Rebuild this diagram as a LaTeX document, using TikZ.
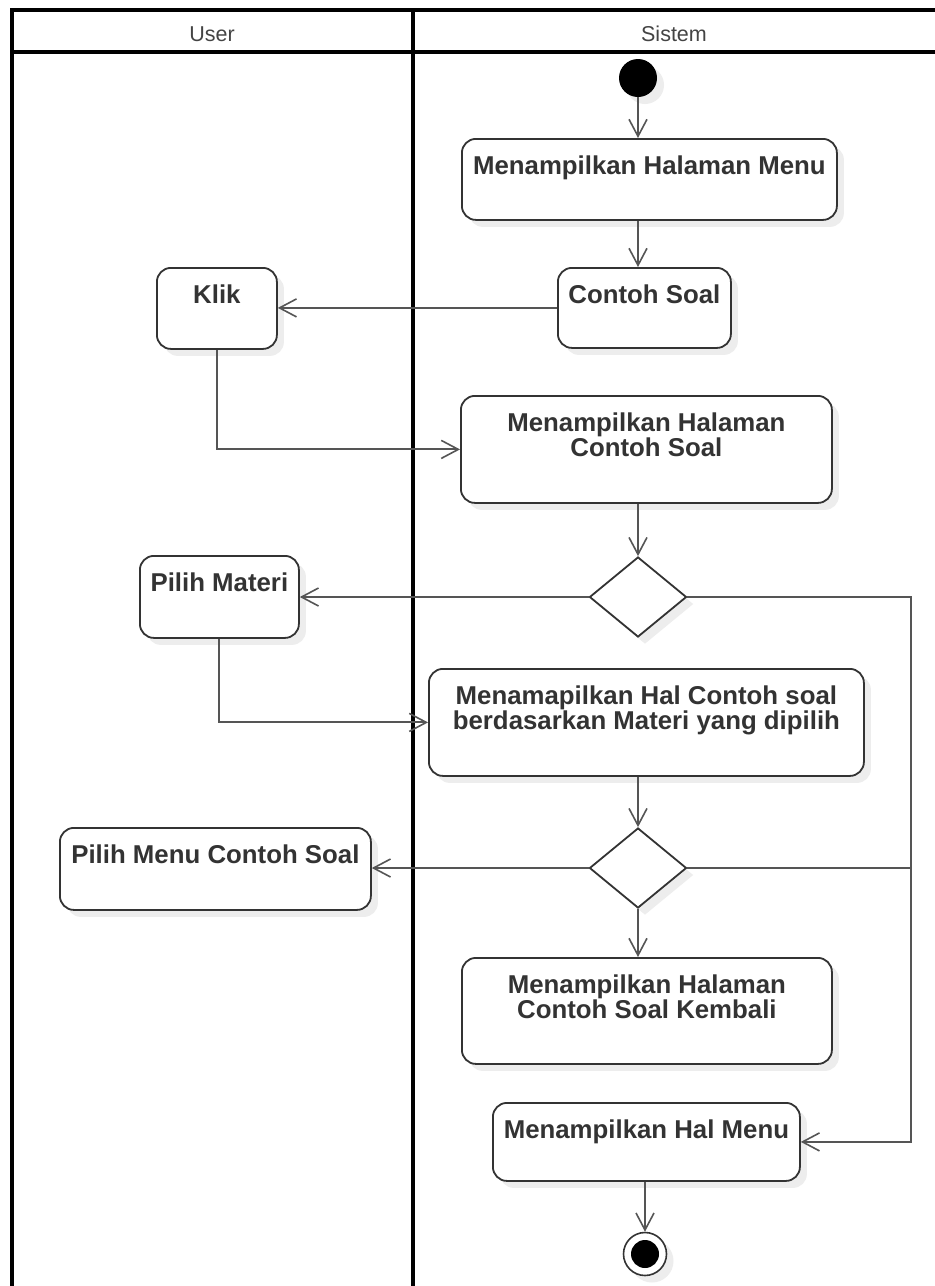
\documentclass[tikz,border=0pt]{standalone}
\usepackage{fontspec}
\setmainfont{Liberation Sans}
\usetikzlibrary{arrows.meta,shapes.geometric,shadows,calc}
\definecolor{ink}{HTML}{333333}
\definecolor{wire}{HTML}{555555}
\definecolor{shade}{HTML}{EDEDED}
\definecolor{headtext}{HTML}{444444}
\begin{document}
\begin{tikzpicture}[x=1pt,y=-1pt,
  lane/.style={line width=4pt, draw=black},
  soft/.style={drop shadow={shadow xshift=7pt, shadow yshift=-7pt, fill=shade, opacity=1}},
  act/.style={draw=ink, line width=1.8pt, rounded corners=14pt, fill=white, soft,
              anchor=north west, inner sep=0pt, minimum width=#1},
  boxtext/.style={anchor=north, yshift=-18pt, inner sep=0pt, align=center, text=ink,
                  font=\bfseries\fontsize{25.8}{25}\selectfont},
  head/.style={inner sep=0pt, text=headtext, font=\fontsize{21.5}{21.5}\selectfont},
  choice/.style={diamond, draw=ink, line width=1.8pt, fill=white, soft, inner sep=0pt,
                 minimum width=97pt, minimum height=80pt},
  flow/.style={draw=wire, line width=2pt, -{Straight Barb[length=17pt, width=18pt, line width=1.6pt]}},
  plain/.style={draw=wire, line width=2pt}
]
\useasboundingbox (0,0) rectangle (935,1286);
\fill[white] (0,0) rectangle (935,1286);

% swimlane frame
\draw[lane] (940,10) -- (12,10) -- (12,1300);
\draw[lane] (12,52) -- (940,52);
\draw[lane] (413,10) -- (413,1300);
\node[head] (userHead) at (212,34) {User};
\node[head] (sysHead) at (674,34) {Sistem};

% start and end
\node[circle, fill=black, minimum size=38pt, inner sep=0pt, soft] (start) at (638,78) {};
\node[circle, draw=ink, line width=1.6pt, fill=white, minimum size=43pt, inner sep=0pt, soft] (finish) at (645,1254) {};
\node[circle, fill=black, minimum size=28pt, inner sep=0pt] (finishDot) at (finish.center) {};

% activities
\node[act=375pt, minimum height=81pt, label={[boxtext]north:Menampilkan Halaman Menu}] (b1) at (461,138) {};
\node[act=173pt, minimum height=80pt, label={[boxtext]north:Contoh Soal}] (b2) at (557,267) {};
\node[act=120pt, minimum height=81pt, label={[boxtext]north:Klik}] (klik) at (156,267) {};
\node[act=371pt, minimum height=107pt, label={[boxtext]north:Menampilkan Halaman\\Contoh Soal}] (b3) at (460,395) {};
\node[act=159pt, minimum height=82pt, label={[boxtext]north:Pilih Materi}] (materi) at (139,555) {};
\node[act=435pt, minimum height=107pt, label={[boxtext]north:Menamapilkan Hal Contoh soal\\berdasarkan Materi yang dipilih}] (b4) at (428,668) {};
\node[act=311pt, minimum height=82pt, label={[boxtext]north:Pilih Menu Contoh Soal}] (menuSoal) at (59,827) {};
\node[act=370pt, minimum height=106pt, label={[boxtext]north:Menampilkan Halaman\\Contoh Soal Kembali}] (b5) at (461,957) {};
\node[act=307pt, minimum height=78pt, label={[boxtext]north:Menampilkan Hal Menu}] (b6) at (492,1102) {};

% decisions
\node[choice] (d1) at (638,597) {};
\node[choice] (d2) at (638,868) {};
\coordinate (rail) at (911,597);

% connectors
\draw[flow] (start.south) -- (start |- b1.north);
\draw[flow] (start |- b1.south) -- (start |- b2.north);
\draw[flow] (b2.west) -- (b2.west -| klik.east);
\draw[flow] (klik.south) |- (b3.west);
\draw[flow] (start |- b3.south) -- (d1.north);
\draw[flow] (d1.west) -- (d1.west -| materi.east);
\draw[flow] (materi.south) |- (b4.west);
\draw[flow] (d2.north |- b4.south) -- (d2.north);
\draw[flow] (d2.west) -- (d2.west -| menuSoal.east);
\draw[flow] (d2.south) -- (d2.south |- b5.north);
\draw[flow] (d1.east) -- (rail) |- (b6.east);
\draw[plain] (d2.east) -- (d2.east -| rail);
\draw[flow] (b6.south -| finish) -- (finish.north);
\end{tikzpicture}
\end{document}
